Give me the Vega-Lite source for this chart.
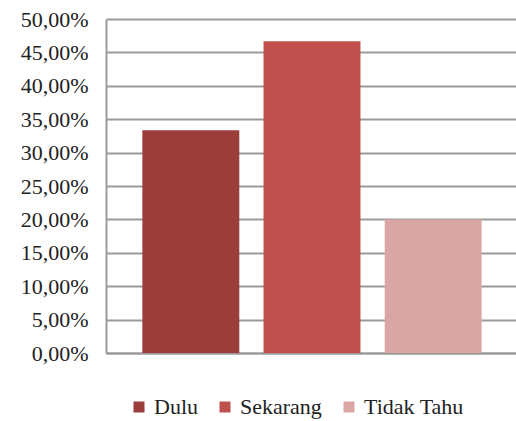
{
  "$schema": "https://vega.github.io/schema/vega-lite/v6.json",
  "width": 412,
  "height": 334,
  "autosize": {"type": "none"},
  "padding": {"left": 106, "top": 19, "right": 0, "bottom": 68},
  "background": "white",
  "config": {
    "locale": {"number": {"decimal": ",", "thousands": ".", "grouping": [3], "currency": ["Rp", ""]}},
    "view": {"stroke": null},
    "font": "Liberation Serif"
  },
  "data": {"values": [
    {"kategori": "Dulu", "persen": 0.3333},
    {"kategori": "Sekarang", "persen": 0.4667},
    {"kategori": "Tidak Tahu", "persen": 0.2}
  ]},
  "mark": {"type": "bar"},
  "encoding": {
    "x": {"field": "kategori", "type": "nominal", "sort": null,
      "scale": {"paddingInner": 0.2, "paddingOuter": 0.3},
      "axis": {"labels": false, "ticks": false, "title": null, "domainColor": "#9a9a9a", "domainWidth": 2}},
    "y": {"field": "persen", "type": "quantitative",
      "scale": {"domain": [0, 0.5], "nice": false},
      "axis": {"format": ".2%", "values": [0,0.05,0.1,0.15,0.2,0.25,0.3,0.35,0.4,0.45,0.5], "title": null, "ticks": false, "labelPadding": 18,
        "labelOverlap": false, "labelFont": "Liberation Serif", "labelFontSize": 22, "labelColor": "#222222",
        "gridColor": "#9a9a9a", "gridWidth": 2, "domainColor": "#9a9a9a", "domainWidth": 2}},
    "color": {"field": "kategori", "type": "nominal", "sort": null,
      "scale": {"domain": ["Dulu", "Sekarang", "Tidak Tahu"], "range": ["#9b3d3b", "#c0504d", "#d9a6a5"]},
      "legend": {"title": null, "orient": "none", "legendX": 22, "legendY": 377, "direction": "horizontal",
        "symbolType": "square", "symbolSize": 121, "symbolStrokeWidth": 0, "labelFont": "Liberation Serif", "labelFontSize": 22,
        "labelColor": "#222222", "columnPadding": 16, "labelOffset": 4}}
  }
}
